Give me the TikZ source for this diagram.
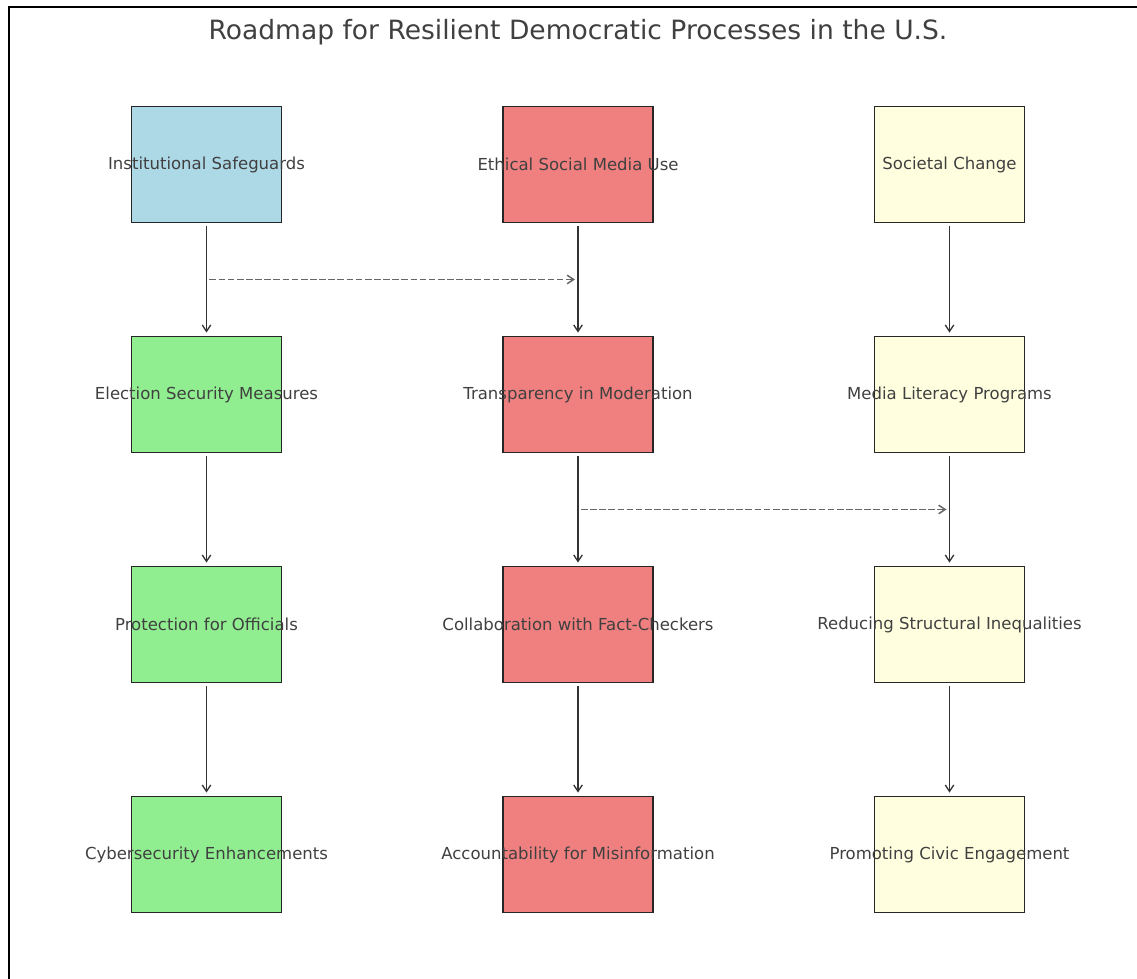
\documentclass[tikz,border=0pt]{standalone}
\usepackage{fontspec}
\setmainfont{DejaVu Sans}
\usepackage{tikz}
\usetikzlibrary{arrows.meta, calc}

\definecolor{safeblue}{HTML}{ADD8E6}
\definecolor{secgreen}{HTML}{90EE90}
\definecolor{mediared}{HTML}{F08080}
\definecolor{sociyellow}{HTML}{FFFFE0}

\begin{document}
\begin{tikzpicture}[
  box/.style={draw=black!85, line width=1pt, minimum width=3cm, minimum height=2.32cm,
    inner sep=0pt, text=black!75, font=\fontsize{9.4}{11}\selectfont},
  flow/.style={-{Straight Barb[length=1.3mm,width=1.7mm]}, black!80, line width=0.75pt,
    shorten <=1.7pt, shorten >=1.7pt},
  link/.style={flow, black!60, line width=0.85pt, dash pattern=on 3.8pt off 1.4pt}
]
% Canvas and frame
\useasboundingbox (0,0) rectangle (22.74,19.58);
\draw[line width=0.8pt] (0.18,0) -- (0.18,19.44) -- (22.74,19.44);

% Parameters
\def\dx{7.43}   % column spacing
\def\dy{4.6}    % row spacing
\def\xo{4.13}   % first column
\def\yo{16.29}  % first row

% Title
\node[text=black!75, font=\fontsize{15.1}{17}\selectfont] (title) at (\xo+\dx, 18.93)
  {Roadmap for Resilient Democratic Processes in the U.S.};

% Boxes: name / column / row / fill / text
\foreach \name/\c/\r/\col/\txt in {
  inst/0/0/safeblue/Institutional Safeguards,
  elec/0/1/secgreen/Election Security Measures,
  prot/0/2/secgreen/Protection for Officials,
  cyber/0/3/secgreen/Cybersecurity Enhancements,
  ethic/1/0/mediared/Ethical Social Media Use,
  trans/1/1/mediared/Transparency in Moderation,
  fact/1/2/mediared/Collaboration with Fact-Checkers,
  accnt/1/3/mediared/Accountability for Misinformation,
  soc/2/0/sociyellow/Societal Change,
  lit/2/1/sociyellow/Media Literacy Programs,
  ineq/2/2/sociyellow/Reducing Structural Inequalities,
  civic/2/3/sociyellow/Promoting Civic Engagement} {
  \node[box, fill=\col] (\name) at ({\xo+\c*\dx}, {\yo-\r*\dy}) {\makebox[0pt]{\txt}};
}

% Vertical flow
\foreach \a/\b in {inst/elec, elec/prot, prot/cyber,
                   ethic/trans, trans/fact, fact/accnt,
                   soc/lit, lit/ineq, ineq/civic} {
  \draw[flow] (\a.south) -- (\b.north);
}

% Cross links
\coordinate (tie1) at ($(inst.south)!0.5!(elec.north)$);
\coordinate (tie2) at ($(trans.south)!0.5!(fact.north)$);
\draw[link] (tie1) -- (tie1 -| ethic);
\draw[link] (tie2) -- (tie2 -| lit);

\end{tikzpicture}
\end{document}
